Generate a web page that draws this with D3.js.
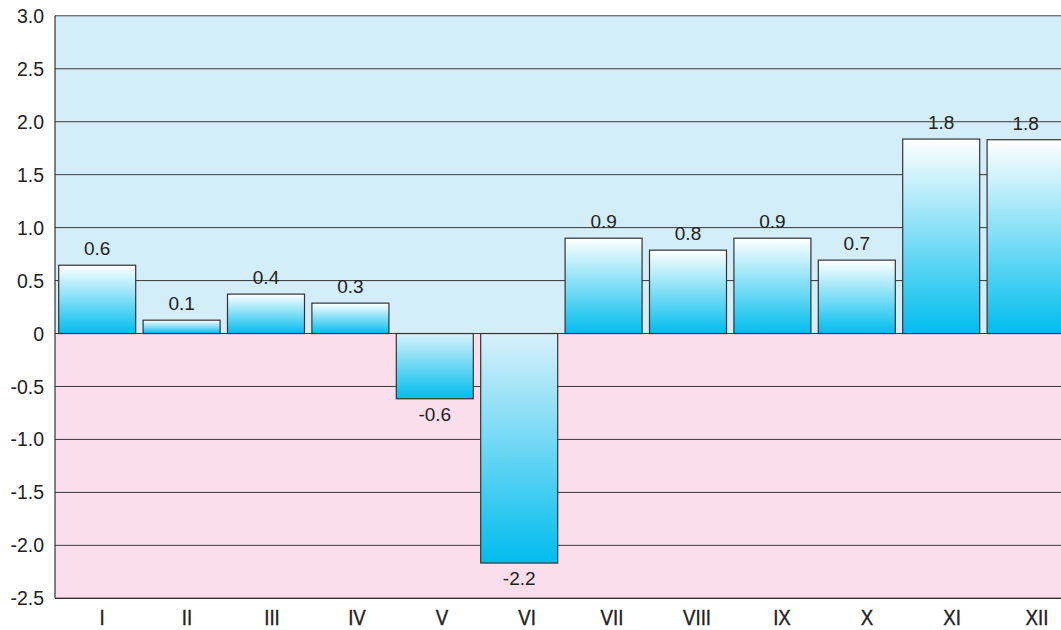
<!DOCTYPE html>
<html><head><meta charset="utf-8">
<script src="https://cdn.jsdelivr.net/npm/d3@7"></script>
<style>body{margin:0;background:#fff}svg{display:block}</style>
</head><body>
<svg id="c" width="1061" height="630"></svg>
<script>
const categories = ["I","II","III","IV","V","VI","VII","VIII","IX","X","XI","XII"];
const values = [0.645, 0.126, 0.372, 0.287, -0.616, -2.167, 0.90, 0.787, 0.90, 0.693, 1.836, 1.83];
const valueLabels = ["0.6","0.1","0.4","0.3","-0.6","-2.2","0.9","0.8","0.9","0.7","1.8","1.8"];
const yTicks = [3.0, 2.5, 2.0, 1.5, 1.0, 0.5, 0, -0.5, -1.0, -1.5, -2.0, -2.5];
const yTickLabels = ["3.0","2.5","2.0","1.5","1.0","0.5","0","-0.5","-1.0","-1.5","-2.0","-2.5"];

(function(){
const svg = d3.select("#c");
const pLeft = 55, pTop = 15.8, pBottom = 598.3, pRight = 1061;
const y = d3.scaleLinear().domain([-2.5, 3.0]).range([pBottom, pTop]);
const x = d3.scaleBand().domain(categories).range([pLeft, pLeft + 12*84.4]).paddingInner(7.4/84.4).paddingOuter(3.7/84.4);
const xl = d3.scalePoint().domain(categories).range([102, 1037]);
const font = "'Liberation Sans', Arial, sans-serif";

const defs = svg.append("defs");
defs.append("clipPath").attr("id","clip").append("rect")
  .attr("x", pLeft).attr("y", pTop-2).attr("width", pRight-pLeft).attr("height", pBottom-pTop+4);
const g = defs.append("linearGradient").attr("id","grad").attr("x1",0).attr("y1",0).attr("x2",0).attr("y2",1);
g.append("stop").attr("offset","0%").attr("stop-color","#ffffff");
g.append("stop").attr("offset","100%").attr("stop-color","#00bdee");
const gn = defs.append("linearGradient").attr("id","gradn").attr("x1",0).attr("y1",0).attr("x2",0).attr("y2",1);
gn.append("stop").attr("offset","0%").attr("stop-color","#d8f1fb");
gn.append("stop").attr("offset","100%").attr("stop-color","#00bdee");

svg.append("rect").attr("x", pLeft).attr("y", y(3)).attr("width", pRight-pLeft).attr("height", y(0)-y(3)).attr("fill","#d3edf9");
svg.append("rect").attr("x", pLeft).attr("y", y(0)).attr("width", pRight-pLeft).attr("height", y(-2.5)-y(0)).attr("fill","#fbdeec");

svg.append("g").selectAll("line").data(yTicks).join("line")
  .attr("x1", pLeft).attr("x2", pRight).attr("y1", d=>y(d)).attr("y2", d=>y(d))
  .attr("stroke","#3a3a3a").attr("stroke-width",1);

const bars = svg.append("g").attr("clip-path","url(#clip)");
bars.selectAll("rect").data(values).join("rect")
  .attr("x", (d,i)=>x(categories[i]))
  .attr("width", x.bandwidth())
  .attr("y", d=>y(Math.max(0,d)))
  .attr("height", d=>Math.abs(y(d)-y(0)))
  .attr("fill", d=> d>=0 ? "url(#grad)" : "url(#gradn)")
  .attr("stroke","#333").attr("stroke-width",1.2);

svg.append("line").attr("x1",pLeft).attr("x2",pLeft).attr("y1",y(3)).attr("y2",y(-2.5)).attr("stroke","#333").attr("stroke-width",1.2);
svg.append("line").attr("x1",pLeft).attr("x2",pRight).attr("y1",y(-2.5)).attr("y2",y(-2.5)).attr("stroke","#333").attr("stroke-width",1.2);

svg.append("g").selectAll("text").data(yTicks).join("text")
  .attr("x", 44).attr("y", d=>y(d)).attr("dy","0.36em")
  .attr("text-anchor","end").attr("font-family",font).attr("font-size",19.5).attr("fill","#222")
  .text((d,i)=>yTickLabels[i]);

svg.append("g").selectAll("text").data(categories).join("text")
  .attr("transform", d=>`translate(${xl(d)},625) scale(0.85,1)`)
  .attr("text-anchor","middle").attr("font-family",font).attr("font-size",22).attr("fill","#222")
  .attr("stroke","#222").attr("stroke-width",0.4)
  .text(d=>d);

svg.append("g").selectAll("text").data(values).join("text")
  .attr("x", (d,i)=>x(categories[i])+x.bandwidth()/2)
  .attr("y", d=> d>=0 ? y(d)-10 : y(d)+22)
  .attr("text-anchor","middle").attr("font-family",font).attr("font-size",19).attr("fill","#222")
  .text((d,i)=>valueLabels[i]);
})();
</script>
</body></html>
